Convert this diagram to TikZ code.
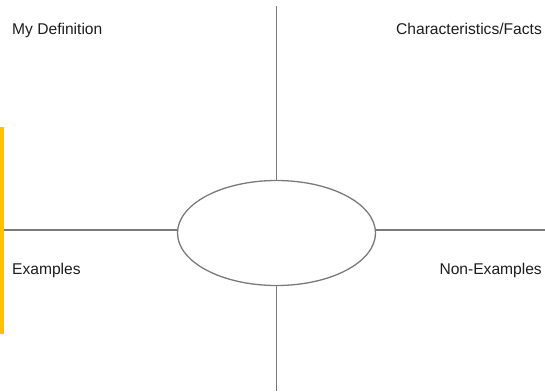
\documentclass[tikz,border=0pt]{standalone}
\usepackage{fontspec}
\usetikzlibrary{shapes.geometric}
\setmainfont{Liberation Sans}
\definecolor{linegray}{HTML}{7A7A7A}
\definecolor{bargold}{HTML}{FFC000}
\definecolor{txtgray}{HTML}{1E1E1E}
\begin{document}
\begin{tikzpicture}[x=1pt,y=-1pt,
  frameline/.style={draw=linegray,line width=1.3pt},
  label/.style={inner sep=0pt,text=txtgray,font=\fontsize{15.6}{17}\selectfont}]
\useasboundingbox (0,0) rectangle (545,391);
\fill[white] (0,0) rectangle (545,391);
\fill[bargold] (0,127) rectangle (3.5,334);
\node[frameline,ellipse,minimum width=198pt,minimum height=105pt,inner sep=0pt] (c) at (276.5,233) {};
\coordinate (top) at (276.5,6);
\coordinate (bot) at (276.5,391);
\coordinate (lft) at (4,230);
\coordinate (rgt) at (545,230);
\draw[frameline] (top) -- (c.north);
\draw[frameline] (c.south) -- (bot);
\draw[frameline] (lft) -- (c.west |- lft);
\draw[frameline] (c.east |- rgt) -- (rgt);
\node[label,anchor=base west] (def) at (12,34.5) {My Definition};
\node[label,anchor=base east] (char) at (542,34.5) {Characteristics/Facts};
\node[label,anchor=base west] (ex) at (12,274) {Examples};
\node[label,anchor=base east] (nex) at (542,274) {Non-Examples};
\end{tikzpicture}
\end{document}
